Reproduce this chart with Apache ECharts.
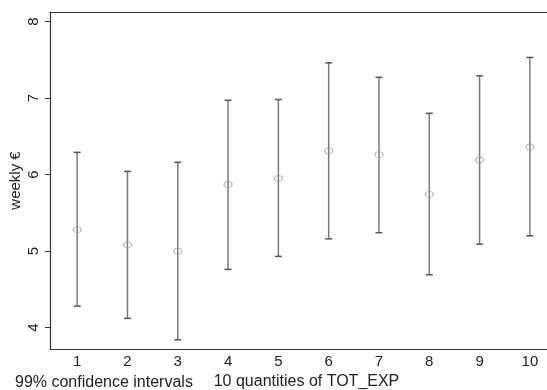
<!DOCTYPE html>
<html>
<head>
<meta charset="utf-8">
<script src="https://cdn.jsdelivr.net/npm/echarts@6/dist/echarts.min.js"></script>
<style>
  html, body { margin: 0; padding: 0; background: #fff; }
  #chart { width: 547px; height: 390px; }
</style>
</head>
<body>
<div id="chart"></div>
<script>
// quantiles of TOT_EXP
var groups = [1, 2, 3, 4, 5, 6, 7, 8, 9, 10];
// mean weekly spend
var means = [5.28, 5.08, 5.00, 5.87, 5.95, 6.31, 6.26, 5.74, 6.19, 6.36];
// 99% CI bounds
var lower = [4.28, 4.12, 3.84, 4.76, 4.93, 5.16, 5.24, 4.69, 5.09, 5.20];
var upper = [6.29, 6.04, 6.16, 6.97, 6.98, 7.46, 7.27, 6.80, 7.29, 7.53];
var yTicks = [4, 5, 6, 7, 8];

var font = 'Liberation Sans, Arial, sans-serif';

var ciData = groups.map(function (g, i) { return [g, lower[i], upper[i]]; });
var meanData = groups.map(function (g, i) { return [g, means[i]]; });

var myChart = echarts.init(document.getElementById('chart'));
myChart.setOption({
  animation: false,
  title: {
    text: '99% confidence intervals',
    left: 15,
    top: 375,
    padding: 0,
    textStyle: { fontFamily: font, fontSize: 16, fontWeight: 'normal', color: '#222' }
  },
  grid: { left: 50, top: 12, right: 0, bottom: 41, containLabel: false, outerBoundsMode: 'none' },
  xAxis: [
    {
      type: 'value',
      min: 0.46,
      max: 10.34,
      name: '10 quantities of TOT_EXP',
      nameLocation: 'middle',
      nameGap: 23,
      nameTextStyle: { fontFamily: font, fontSize: 16, color: '#222', padding: [0, 0, 0, 16] },
      axisLine: { show: true, lineStyle: { color: '#333', width: 1.2 } },
      axisTick: { show: false },
      splitLine: { show: false },
      axisLabel: {
        customValues: groups,
        fontFamily: font, fontSize: 15, color: '#222', margin: 5
      }
    },
    {
      type: 'value',
      position: 'top',
      min: 0.46,
      max: 10.34,
      axisLine: { show: true, lineStyle: { color: '#333', width: 1.2 } },
      axisTick: { show: false },
      axisLabel: { show: false },
      splitLine: { show: false }
    }
  ],
  yAxis: {
    type: 'value',
    min: 3.72,
    max: 8.124,
    name: 'weekly €',
    nameLocation: 'middle',
    nameGap: 27,
    nameMoveOverlap: false,
    nameRotate: 90,
    nameTextStyle: { fontFamily: font, fontSize: 15, color: '#222' },
    axisLine: { show: true, lineStyle: { color: '#333', width: 1.2 } },
    axisTick: { show: true, customValues: yTicks, length: 5, lineStyle: { color: '#333' } },
    splitLine: { show: false },
    axisLabel: {
      customValues: yTicks,
      rotate: 90,
      fontFamily: font, fontSize: 15, color: '#222', margin: 9
    }
  },
  series: [
    {
      type: 'custom',
      data: ciData,
      renderItem: function (params, api) {
        var x = api.value(0);
        var lo = api.coord([x, api.value(1)]);
        var hi = api.coord([x, api.value(2)]);
        var cap = 3.5;
        return {
          type: 'group',
          children: [
            { type: 'line', shape: { x1: lo[0], y1: lo[1], x2: hi[0], y2: hi[1] },
              style: { stroke: '#7a7a7a', lineWidth: 1.5 } },
            { type: 'line', shape: { x1: lo[0] - cap, y1: lo[1], x2: lo[0] + cap, y2: lo[1] },
              style: { stroke: '#555', lineWidth: 1.5 } },
            { type: 'line', shape: { x1: hi[0] - cap, y1: hi[1], x2: hi[0] + cap, y2: hi[1] },
              style: { stroke: '#555', lineWidth: 1.5 } }
          ]
        };
      }
    },
    {
      type: 'scatter',
      data: meanData,
      symbol: 'circle',
      symbolSize: [8, 6],
      itemStyle: { color: 'rgba(0,0,0,0)', borderColor: '#9a9a9a', borderWidth: 1 },
      z: 5
    }
  ]
});
</script>
</body>
</html>
